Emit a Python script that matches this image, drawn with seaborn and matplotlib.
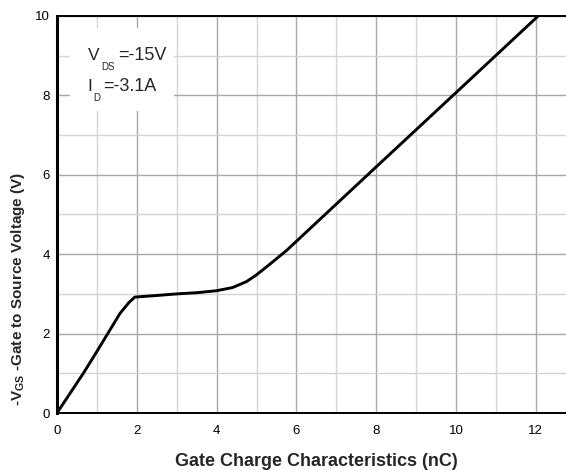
import matplotlib
matplotlib.use("Agg")
import matplotlib.pyplot as plt
import seaborn as sns
import pandas as pd
from matplotlib.patches import Rectangle

qg = [0, 0.66, 1.0, 1.58, 1.8, 1.95, 2.5, 3.0, 3.5, 4.0, 4.4, 4.75, 5.0, 5.3, 5.76, 8.0, 10.0, 12.06]
vgs = [0, 1.0, 1.55, 2.51, 2.78, 2.92, 2.96, 3.0, 3.03, 3.08, 3.16, 3.31, 3.48, 3.72, 4.1, 6.2, 8.07, 10.0]
xticks = [0, 2, 4, 6, 8, 10, 12]
yticks = [0, 2, 4, 6, 8, 10]

sns.set_theme(style="white")
plt.rcParams['font.family'] = ['Liberation Sans', 'DejaVu Sans']

fig = plt.figure(figsize=(5.66, 4.70), dpi=100)
ax = fig.add_axes([57/566, 57/470, 1 - 57/566, (413-16)/470])

df = pd.DataFrame({"qg": qg, "vgs": vgs})
sns.lineplot(data=df, x="qg", y="vgs", ax=ax, color="black", linewidth=2.1, zorder=5)

ax.set_xlim(0, (566-57)/39.9)
ax.set_ylim(0, 10)
ax.set_xticks(xticks)
ax.set_yticks(yticks)
ax.set_xticks(range(0, 13), minor=True)
ax.set_yticks(range(0, 11), minor=True)
ax.grid(which="major", color="#a8a8a8", linewidth=1.0)
ax.grid(which="minor", color="#d4d4d4", linewidth=1.0)
ax.set_axisbelow(True)
ax.tick_params(which="both", length=0, labelsize=9.5, colors="black")
ax.tick_params(axis="y", pad=5)
ax.tick_params(axis="x", pad=9)

ax.spines["right"].set_visible(False)
ax.spines["left"].set_linewidth(2.2)
ax.spines["left"].set_color("black")
ax.spines["bottom"].set_linewidth(1.4)
ax.spines["bottom"].set_color("black")
ax.spines["top"].set_linewidth(1.4)
ax.spines["top"].set_color("black")

ax.set_xlabel("Gate Charge Characteristics (nC)", fontsize=13, fontweight="bold")
ax.xaxis.set_label_coords(0.509, -(461-413)/397, transform=ax.transAxes)
ax.xaxis.label.set_va("center")
ax.set_ylabel(r"-V$_{\mathregular{GS}}$ -Gate to Source Voltage (V)", fontsize=11, fontweight="bold")
ax.yaxis.set_label_coords((18-57)/509, (413-289)/397, transform=ax.transAxes)
ax.yaxis.label.set_va("center")

ax.add_patch(Rectangle((0.33, 7.6), 2.6, 2.1, facecolor="white", edgecolor="none", zorder=2))
ax.text(0.77, 8.9, "V", fontsize=12.5, va="baseline", zorder=3)
ax.text(1.12, 8.63, "DS", fontsize=7, va="baseline", zorder=3)
ax.text(1.53, 8.9, "=-15V", fontsize=13, va="baseline", zorder=3)
ax.text(0.77, 8.12, "I", fontsize=12.5, va="baseline", zorder=3)
ax.text(0.92, 7.85, "D", fontsize=7, va="baseline", zorder=3)
ax.text(1.15, 8.12, "=-3.1A", fontsize=13, va="baseline", zorder=3)

fig.savefig("out.png", dpi=100)
